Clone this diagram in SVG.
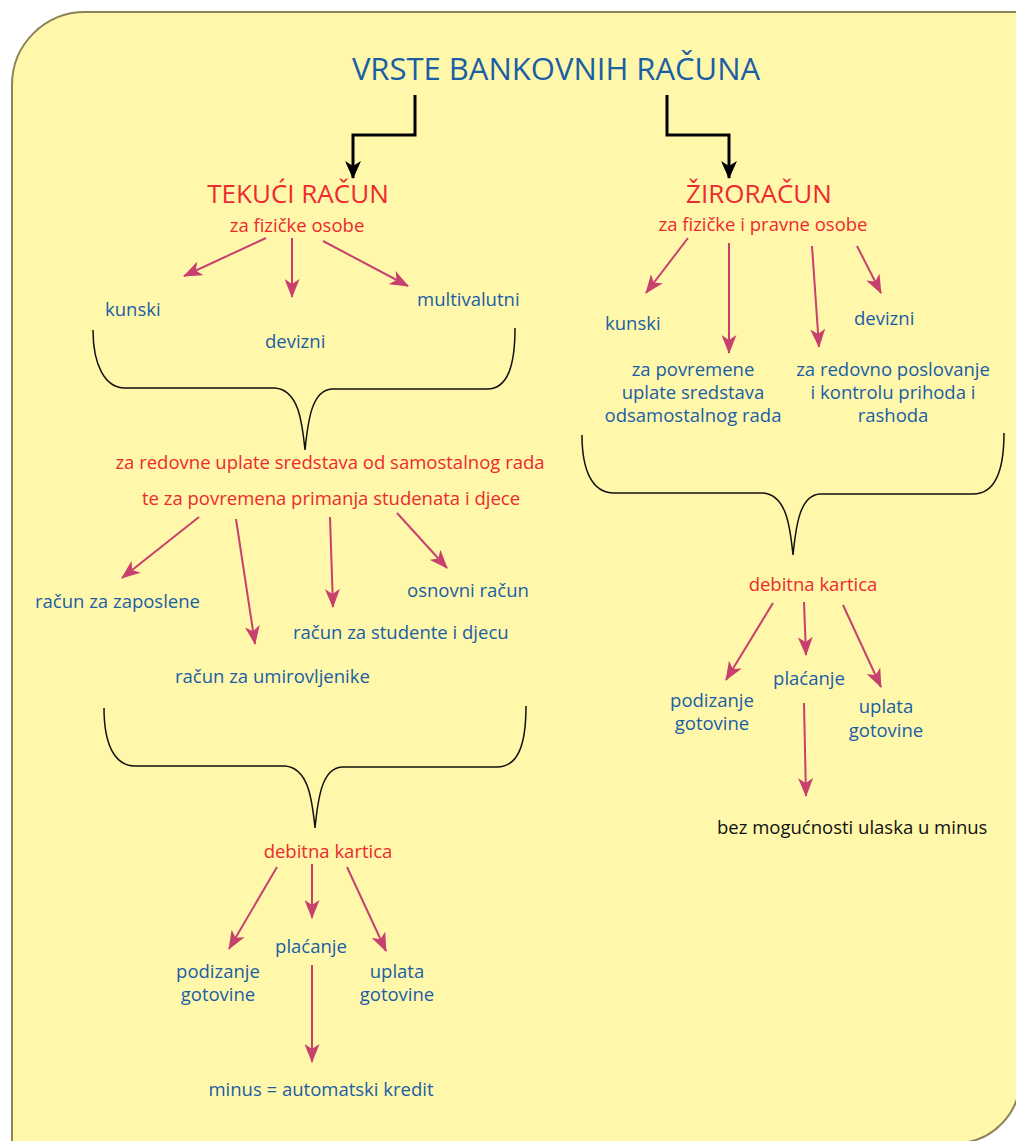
<svg xmlns="http://www.w3.org/2000/svg" width="1016" height="1141" viewBox="0 0 1016 1141">
<defs>
<marker id="pa" markerUnits="userSpaceOnUse" markerWidth="19" markerHeight="15" refX="18" refY="7.5" orient="auto" viewBox="0 0 19 15">
<path d="M0,0 L19,7.5 L0,15 L5,7.5 z" fill="#c8416e"/>
</marker>
<marker id="ba" markerUnits="userSpaceOnUse" markerWidth="18" markerHeight="16" refX="17" refY="8" orient="auto" viewBox="0 0 18 16">
<path d="M0,0 L18,8 L0,16 L5,8 z" fill="#000"/>
</marker>
</defs>
<style>
text{font-family:"Open Sans","Noto Sans","Liberation Sans",sans-serif;}
.b{fill:#1a5ea6;font-size:18.5px;}
.r{fill:#ed2a2f;font-size:18.5px;}
.k{fill:#111;font-size:18.5px;}
.h{font-size:26px;}
.m{text-anchor:middle;}
.pl{stroke:#c8416e;stroke-width:2;fill:none;marker-end:url(#pa);}
.bl{stroke:#000;stroke-width:3;fill:none;marker-end:url(#ba);}
.br{stroke:#111;stroke-width:1.5;fill:none;}
</style>
<rect width="1016" height="1141" fill="#fff"/>
<path d="M12,1145 L12,85 A73,73 0 0 1 85,12 L1020,12 L1020,1079 A64,64 0 0 1 956,1143 Z" fill="#fff7aa" stroke="#8c8458" stroke-width="2"/>

<g id="connectors">
<path class="bl" d="M415,95 V135 H353 V178"/>
<path class="bl" d="M667,95 V135 H729 V178"/>
<line class="pl" x1="266" y1="238" x2="184" y2="276"/>
<line class="pl" x1="292" y1="238" x2="292" y2="297"/>
<line class="pl" x1="323" y1="241" x2="408" y2="286"/>
<path class="br" d="M93,330 C93,365 105,388 125,388 L275,388 C298,390 302,420 305,450 C308,420 312,390 332,389 L487,389 C508,389 515,365 515,328"/>
<line class="pl" x1="199" y1="517" x2="122" y2="578"/>
<line class="pl" x1="236" y1="519" x2="255" y2="644"/>
<line class="pl" x1="330" y1="517" x2="333" y2="607"/>
<line class="pl" x1="397" y1="513" x2="447" y2="568"/>
<path class="br" d="M104,708 C104,745 115,766 135,766 L285,766 C308,768 312,798 315,828 C318,798 322,768 342,767 L497,767 C518,767 526,745 526,706"/>
<line class="pl" x1="277" y1="867" x2="229" y2="949"/>
<line class="pl" x1="312" y1="864" x2="312" y2="918"/>
<line class="pl" x1="347" y1="867" x2="386" y2="951"/>
<line class="pl" x1="312" y1="965" x2="312" y2="1062"/>
<line class="pl" x1="688" y1="238" x2="646" y2="293"/>
<line class="pl" x1="729" y1="243" x2="729" y2="353"/>
<line class="pl" x1="812" y1="246" x2="819" y2="347"/>
<line class="pl" x1="857" y1="246" x2="881" y2="293"/>
<path class="br" d="M582,435 C582,470 592,493 614,493 L763,493 C786,495 790,525 793,555 C796,525 800,495 820,494 L973,494 C995,494 1004,470 1004,433"/>
<line class="pl" x1="773" y1="603" x2="726" y2="680"/>
<line class="pl" x1="804" y1="602" x2="806" y2="655"/>
<line class="pl" x1="843" y1="605" x2="881" y2="687"/>
<line class="pl" x1="804" y1="703" x2="806" y2="796"/>
</g>

<g id="title"><text x="556" y="80" class="m" style="fill:#1a5ea6;font-size:31px">VRSTE BANKOVNIH RAČUNA</text></g>

<g id="tekuci">
<text x="298" y="203" class="r m h">TEKUĆI RAČUN</text>
<text x="297" y="232" class="r m">za fizičke osobe</text>
</g>
<g id="ziro">
<text x="759" y="203" class="r m h">ŽIRORAČUN</text>
<text x="763" y="231" class="r m">za fizičke i pravne osobe</text>
</g>

<g id="t-kunski"><text x="105" y="316" class="b">kunski</text></g>
<g id="t-devizni"><text x="265" y="348" class="b">devizni</text></g>
<g id="t-multi"><text x="417" y="306" class="b">multivalutni</text></g>

<g id="t-namjena">
<text x="330" y="469" class="r m">za redovne uplate sredstava od samostalnog rada</text>
<text x="331" y="505" class="r m">te za povremena primanja studenata i djece</text>
</g>

<g id="t-zaposlene"><text x="35" y="608" class="b">račun za zaposlene</text></g>
<g id="t-osnovni"><text x="407" y="597" class="b">osnovni račun</text></g>
<g id="t-studente"><text x="293" y="639" class="b">račun za studente i djecu</text></g>
<g id="t-umirov"><text x="175" y="683" class="b">račun za umirovljenike</text></g>

<g id="t-debitna1"><text x="328" y="858" class="r m">debitna kartica</text></g>
<g id="t-placanje1"><text x="311" y="953" class="b m">plaćanje</text></g>
<g id="t-podizanje1"><text x="218" y="978" class="b m">podizanje</text><text x="218" y="1001" class="b m">gotovine</text></g>
<g id="t-uplata1"><text x="397" y="978" class="b m">uplata</text><text x="397" y="1001" class="b m">gotovine</text></g>
<g id="t-minus"><text x="321" y="1096" class="b m">minus = automatski kredit</text></g>

<g id="z-kunski"><text x="605" y="330" class="b">kunski</text></g>
<g id="z-devizni"><text x="854" y="325" class="b">devizni</text></g>
<g id="z-povremene"><text x="693" y="376" class="b m">za povremene</text><text x="693" y="399" class="b m">uplate sredstava</text><text x="693" y="422" class="b m">odsamostalnog rada</text></g>
<g id="z-redovno"><text x="893" y="376" class="b m">za redovno poslovanje</text><text x="893" y="399" class="b m">i kontrolu prihoda i</text><text x="893" y="422" class="b m">rashoda</text></g>

<g id="z-debitna"><text x="813" y="591" class="r m">debitna kartica</text></g>
<g id="z-placanje"><text x="809" y="685" class="b m">plaćanje</text></g>
<g id="z-podizanje"><text x="712" y="707" class="b m">podizanje</text><text x="712" y="730" class="b m">gotovine</text></g>
<g id="z-uplata"><text x="886" y="713" class="b m">uplata</text><text x="886" y="737" class="b m">gotovine</text></g>
<g id="z-bez"><text x="717" y="834" class="k">bez mogućnosti ulaska u minus</text></g>
</svg>
